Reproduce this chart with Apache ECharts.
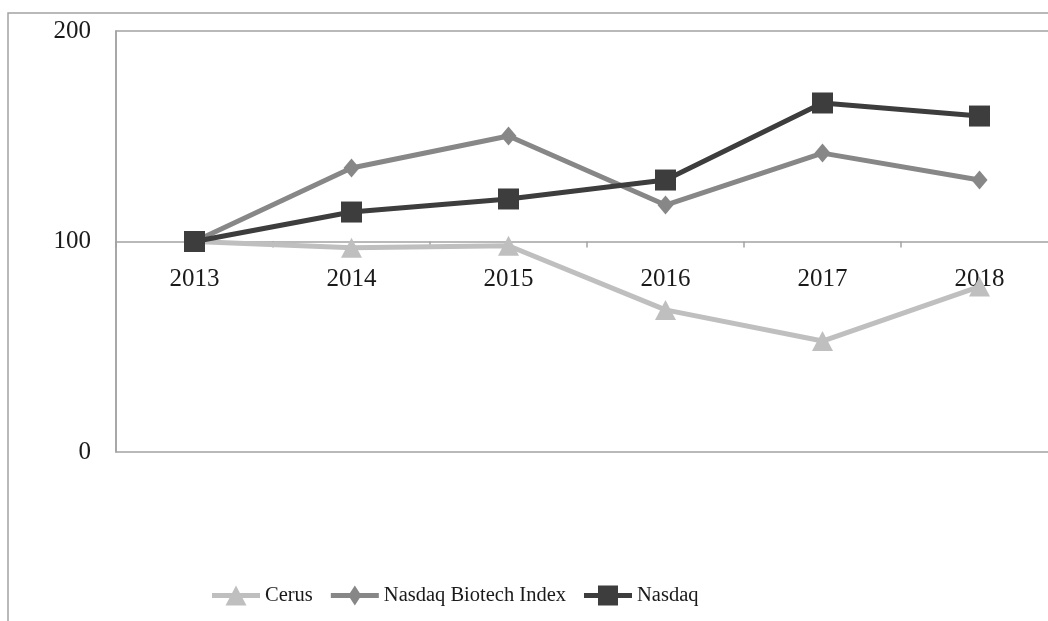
<!DOCTYPE html>
<html lang="en">
  <head>
    <meta charset="UTF-8" />
    <title>Cerus stock performance</title>
    <script src="https://cdn.jsdelivr.net/npm/echarts@6/dist/echarts.min.js"></script>
    <style>
      body,
      html {
        margin: 0;
        padding: 0;
        background: #fff;
      }
    </style>
  </head>
  <body>
    <div id="chart" style="width:1048px;height:621px"></div>
    <script>
      // values (base year 2013 = 100)
      var years = ["2013", "2014", "2015", "2016", "2017", "2018"];
      var cerus = [100, 97, 98, 67.5, 52.7, 78.6];
      var biotech = [100, 134.9, 150.1, 117.3, 142, 129.2];
      var nasdaq = [100, 114, 120.2, 129.2, 165.8, 159.6];
      var yTicks = [0, 100, 200];

      var font = "Liberation Serif";
      var frameGray = "#a3a3a3";
      var textColor = "#1a1a1a";

      // legend icons: thick line with the series marker on top
      var iconTriangle = "path://M0,7.5H48V12.5H0Z M24,0L34.5,20H13.5Z";
      var iconDiamond = "path://M0,7.5H48V12.5H0Z M24,0L30.5,10L24,20L17.5,10Z";
      var iconSquare = "path://M0,7.5H48V12.5H0Z M14,0H34V20H14Z";

      var chart = echarts.init(document.getElementById("chart"));

      var option = {
        animation: false,
        backgroundColor: "#fff",
        graphic: [
          {
            // outer chart frame (only left + top edges are visible)
            type: "polyline",
            shape: { points: [[8, 621], [8, 13], [1048, 13]] },
            style: { stroke: frameGray, lineWidth: 1.5, fill: null },
            silent: true
          }
        ],
        grid: {
          left: 116,
          top: 31,
          width: 942,
          height: 421,
          show: true,
          borderColor: frameGray,
          borderWidth: 1.5,
          containLabel: false,
          outerBoundsMode: "none"
        },
        legend: {
          left: 212,
          top: 585,
          padding: 0,
          itemWidth: 48,
          itemHeight: 20,
          itemGap: 18,
          itemStyle: { borderWidth: 0 },
          textStyle: { fontFamily: font, fontSize: 20.5, color: textColor },
          data: [
            { name: "Cerus", icon: iconTriangle },
            { name: "Nasdaq Biotech Index", icon: iconDiamond },
            { name: "Nasdaq", icon: iconSquare }
          ]
        },
        xAxis: {
          type: "category",
          data: years,
          boundaryGap: true,
          // the category axis crosses the value axis at 100
          offset: -210.5,
          axisLine: {
            onZero: false,
            lineStyle: { color: frameGray, width: 1.5 }
          },
          axisTick: {
            show: true,
            length: 6,
            lineStyle: { color: frameGray, width: 1.5 }
          },
          axisLabel: {
            margin: 25,
            fontFamily: font,
            fontSize: 25,
            color: textColor
          },
          splitLine: { show: false }
        },
        yAxis: {
          type: "value",
          min: yTicks[0],
          max: yTicks[yTicks.length - 1],
          interval: 100,
          axisLine: { show: true, lineStyle: { color: frameGray, width: 1.5 } },
          axisTick: { show: false },
          axisLabel: {
            margin: 25,
            fontFamily: font,
            fontSize: 25,
            color: textColor
          },
          splitLine: { show: false }
        },
        series: [
          {
            name: "Cerus",
            type: "line",
            data: cerus,
            symbol: "triangle",
            symbolSize: [21, 20],
            lineStyle: { color: "#bfbfbf", width: 5 },
            itemStyle: { color: "#bfbfbf" }
          },
          {
            name: "Nasdaq Biotech Index",
            type: "line",
            data: biotech,
            symbol: "diamond",
            symbolSize: [16, 19],
            lineStyle: { color: "#878787", width: 5 },
            itemStyle: { color: "#878787" }
          },
          {
            name: "Nasdaq",
            type: "line",
            data: nasdaq,
            symbol: "rect",
            symbolSize: 21,
            lineStyle: { color: "#3d3d3d", width: 5 },
            itemStyle: { color: "#3d3d3d" }
          }
        ]
      };

      chart.setOption(option);
    </script>
  </body>
</html>
